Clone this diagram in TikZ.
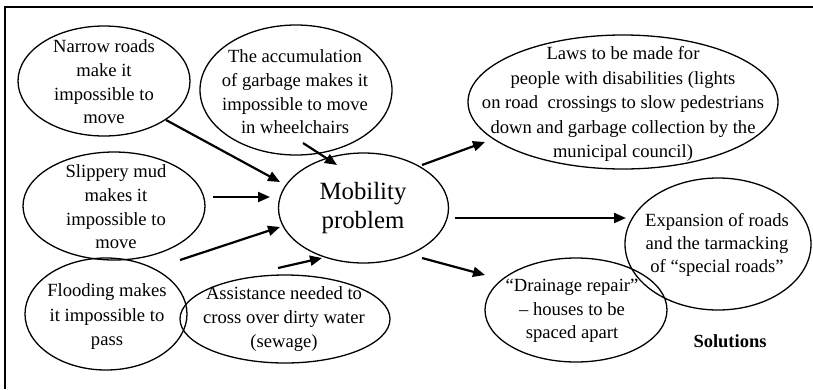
\documentclass[tikz,border=0pt]{standalone}
\usepackage{fontspec}
\setmainfont{Liberation Serif}
\usetikzlibrary{shapes.geometric,arrows.meta,calc}
\tikzset{
  ell/.style={draw, ellipse, line width=1.3pt, inner sep=0pt, outer sep=0pt},
  txt/.style={align=center, inner sep=0pt, font=\fontsize{18.6}{23.7}\selectfont},
  arr/.style={line width=2.2pt, -{Triangle[length=12pt,width=10pt]}},
}
\begin{document}
\begin{tikzpicture}[x=1pt,y=-1pt]
\useasboundingbox (0,0) rectangle (813,389);
% frame
\draw[line width=1.3pt] (5,389) -- (5,7) -- (813,7);
% ellipses
\node[ell, minimum width=172pt, minimum height=110pt] (narrow) at (104,81) {};
\node[ell, minimum width=192pt, minimum height=130pt] (garb) at (296,90) {};
\node[ell, minimum width=182pt, minimum height=108pt] (slip) at (114,206) {};
\node[ell, minimum width=162pt, minimum height=112pt] (flood) at (106,314) {};
\node[ell, minimum width=210pt, minimum height=88pt] (assist) at (285,319) {};
\node[ell, minimum width=170pt, minimum height=110pt] (mob) at (363.5,208) {};
\node[ell, minimum width=310pt, minimum height=134pt] (laws) at (623,102) {};
\node[ell, minimum width=186pt, minimum height=132pt] (exp) at (718,244) {};
\node[ell, minimum width=182pt, minimum height=104pt] (drain) at (576,310) {};
% texts
\node[txt] (narrowt) at (104,82) {Narrow roads\\make it\\impossible to\\move};
\node[txt] (garbt) at (295,92) {The accumulation\\of garbage makes it\\impossible to move\\in wheelchairs};
\node[txt] (slipt) at (116,207) {Slippery mud\\makes it\\impossible to\\move};
\node[txt, font=\fontsize{18.6}{24.5}\selectfont] (floodt) at (107,317) {Flooding makes\\it impossible to\\pass};
\node[txt, font=\fontsize{18.6}{24}\selectfont] (assistt) at (284,319) {Assistance needed to\\cross over dirty water\\(sewage)};
\node[txt, font=\fontsize{24.8}{29}\selectfont] (mobt) at (363,208) {Mobility\\problem};
\node[txt, font=\fontsize{18.6}{24.5}\selectfont] (lawst) at (623,104) {Laws to be made for\\people with disabilities (lights\\on road\ \ crossings to slow pedestrians\\down and garbage collection by the\\municipal council)};
\node[txt, font=\fontsize{18.6}{23}\selectfont] (expt) at (717,245) {Expansion of roads\\and the tarmacking\\of “special roads”};
\node[txt, font=\fontsize{18.6}{23.5}\selectfont] (draint) at (572,311) {“Drainage repair”\\– houses to be\\spaced apart};
\node[inner sep=0pt, font=\fontsize{18.5}{22}\selectfont\bfseries] (sol) at (730,341) {Solutions};
% arrows
\draw[arr] ($(narrow)+(62,39)$) -- ($(mob)+(-83.5,-26)$);
\draw[arr] ($(garb)+(7,53)$) -- ($(mob)+(-26.5,-43)$);
\draw[arr] ($(slip)+(99,-9)$) -- ($(mob)+(-93.5,-11)$);
\draw[arr] ($(flood)+(74,-54)$) -- ($(mob)+(-83.5,19)$);
\draw[arr] ($(assist)+(-7,-51)$) -- ($(mob)+(-41.5,50)$);
\draw[arr] ($(mob)+(58.5,-43)$) -- ($(laws)+(-138,40)$);
\draw[arr] ($(mob)+(91.5,10)$) -- ($(exp)+(-92,-26)$);
\draw[arr] ($(mob)+(58.5,50)$) -- ($(drain)+(-91,-35)$);
\end{tikzpicture}
\end{document}
